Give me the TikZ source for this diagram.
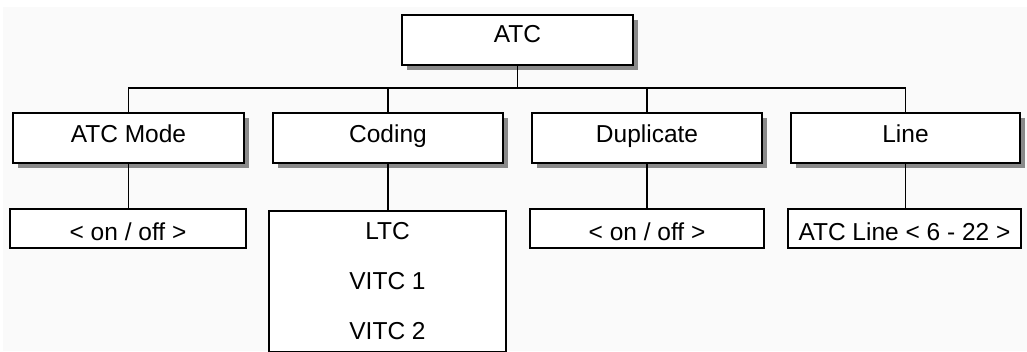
\documentclass[tikz,border=0pt]{standalone}
\usepackage{fontspec}
\setmainfont{Liberation Sans}
\usetikzlibrary{shadows}
\definecolor{paper}{HTML}{FAFAFA}
\definecolor{shade}{HTML}{8A8A8A}
\begin{document}
\begin{tikzpicture}[x=1pt, y=-1pt,
  box/.style={draw=black, line width=1.5pt, fill=white, inner sep=0pt,
    font=\fontsize{24.5}{28}\selectfont, text height=17.5pt, text depth=8pt},
  headbox/.style={box, minimum height=50pt,
    general shadow={fill=shade, shadow xshift=5pt, shadow yshift=-5pt}},
  valbox/.style={box, minimum height=39pt, text height=23pt, text depth=0pt},
  wire/.style={line width=1.3pt, black}]
  \useasboundingbox (0,0) rectangle (1027,351);
  \fill[paper] (3,7) rectangle (1027,351);

  % top node
  \node[headbox, minimum width=231pt, text height=16pt, text depth=10.5pt]
    (atc) at (517.5,40) {ATC};

  % second level
  \node[headbox, minimum width=231pt] (mode) at (128.5,138) {ATC Mode};
  \node[headbox, minimum width=230pt] (coding) at (388,138) {Coding};
  \node[headbox, minimum width=230pt] (dup) at (647,138) {Duplicate};
  \node[headbox, minimum width=229pt] (line) at (905.5,138) {Line};

  % values
  \node[valbox, minimum width=236pt] (modeval) at (128,228.5) {< on / off >};
  \node[box, minimum width=237pt, minimum height=141pt, align=center,
    font=\fontsize{24.5}{50}\selectfont, text height=, text depth=]
    (codeval) at (387.5,281.5) {LTC\\VITC 1\\VITC 2};
  \node[valbox, minimum width=234pt] (dupval) at (647,228.5) {< on / off >};
  \node[valbox, minimum width=233pt] (lineval) at (904.5,228.5) {ATC Line < 6 - 22 >};

  % bus between levels
  \coordinate (bus) at (518,88);
  \draw[wire] (atc.south) -- (atc.south |- bus);
  \draw[wire] (mode.north) -- (mode.north |- bus) -- (line.north |- bus) -- (line.north);
  \draw[wire] (coding.north) -- (coding.north |- bus);
  \draw[wire] (dup.north) -- (dup.north |- bus);

  % links to values
  \draw[wire] (mode.south) -- (mode.south |- modeval.north);
  \draw[wire] (coding.south) -- (coding.south |- codeval.north);
  \draw[wire] (dup.south) -- (dup.south |- dupval.north);
  \draw[wire] (line.south) -- (line.south |- lineval.north);
\end{tikzpicture}
\end{document}
